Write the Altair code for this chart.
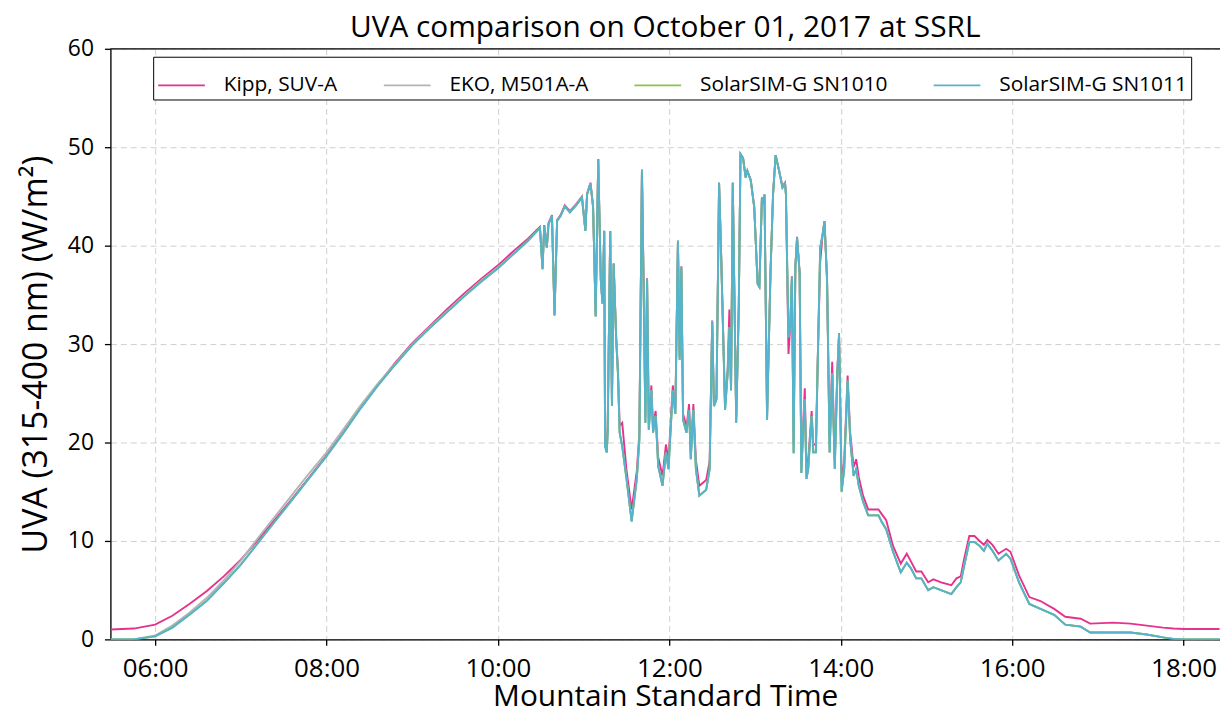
import altair as alt
import pandas as pd

# ---- data (time in decimal hours, MST; UVA in W/m^2) ----
T_RAMP = [5.48, 5.75, 6.00, 6.20, 6.40, 6.60, 6.80, 7.00, 7.20, 7.40, 7.60, 7.80, 8.00,
          8.20, 8.40, 8.60, 8.80, 9.00, 9.20, 9.40, 9.60, 9.80, 10.00, 10.20, 10.35]
RAMP_SIM = [0.0, 0.0, 0.3, 1.2, 2.5, 3.9, 5.7, 7.6, 9.8, 12.0, 14.2, 16.4, 18.6,
            21.0, 23.5, 25.8, 27.9, 29.9, 31.6, 33.2, 34.8, 36.3, 37.7, 39.3, 40.5]
RAMP_EKO = [0.0, 0.0, 0.4, 1.4, 2.7, 4.2, 6.0, 8.0, 10.3, 12.5, 14.7, 16.9, 19.0,
            21.4, 23.8, 26.0, 28.0, 30.0, 31.7, 33.3, 34.9, 36.4, 37.8, 39.3, 40.5]
RAMP_KIPP = [1.0, 1.1, 1.5, 2.4, 3.6, 4.9, 6.4, 8.1, 10.1, 12.2, 14.3, 16.5, 18.7,
             21.1, 23.6, 25.9, 28.1, 30.1, 31.8, 33.5, 35.1, 36.6, 38.0, 39.6, 40.7]

T_CLOUD = [10.49, 10.52, 10.54, 10.57, 10.59, 10.63, 10.66, 10.69, 10.73, 10.78,
           10.84, 10.92, 10.98, 11.02, 11.04, 11.08, 11.11, 11.14, 11.17, 11.20,
           11.22, 11.24, 11.25, 11.27, 11.28, 11.31, 11.33, 11.35, 11.38, 11.40,
           11.42, 11.45, 11.50, 11.56, 11.62, 11.65, 11.68, 11.70, 11.72, 11.74,
           11.76, 11.79, 11.81, 11.84, 11.87, 11.92, 11.96, 11.99, 12.04, 12.07,
           12.10, 12.12, 12.14, 12.16, 12.20, 12.23, 12.25, 12.28, 12.31, 12.35,
           12.43, 12.47, 12.50, 12.52, 12.55, 12.58, 12.60, 12.65, 12.68, 12.70,
           12.72, 12.74, 12.78, 12.81, 12.83, 12.86, 12.89, 12.91, 12.95, 12.99,
           13.03, 13.05, 13.08, 13.10, 13.11, 13.14, 13.18, 13.21, 13.24, 13.28,
           13.32, 13.35, 13.36, 13.39, 13.41, 13.43, 13.45, 13.47, 13.49, 13.52,
           13.54, 13.56, 13.58, 13.60, 13.62, 13.66, 13.68, 13.71, 13.73, 13.76,
           13.79, 13.81, 13.84, 13.87, 13.90, 13.93, 13.96, 13.98, 14.01, 14.04,
           14.08, 14.11, 14.15, 14.18, 14.21, 14.26, 14.32]
CLOUD_SIM = [41.8, 37.6, 42.0, 39.8, 42.2, 43.0, 32.9, 42.5, 43.0, 44.0,
             43.4, 44.2, 44.9, 41.5, 45.2, 46.3, 43.9, 32.8, 48.8, 36.5,
             34.1, 41.5, 19.6, 19.0, 21.0, 41.5, 23.7, 38.1, 30.4, 27.0,
             21.0, 19.6, 16.3, 12.0, 16.3, 20.3, 47.7, 35.5, 22.0, 36.6,
             21.3, 25.3, 21.0, 22.7, 17.6, 15.6, 19.0, 17.3, 25.3, 22.9,
             40.5, 28.4, 37.8, 22.3, 21.0, 23.3, 18.3, 23.3, 17.3, 14.6,
             15.2, 17.3, 32.3, 23.7, 24.4, 46.4, 40.5, 23.3, 27.0, 31.7,
             25.3, 46.4, 22.0, 33.8, 49.3, 48.9, 46.9, 47.6, 46.6, 43.9,
             36.1, 35.8, 44.9, 44.2, 45.2, 22.3, 37.2, 45.2, 49.2, 47.6,
             45.9, 46.3, 45.2, 30.7, 31.7, 36.8, 18.9, 37.8, 40.8, 37.2,
             16.9, 21.0, 24.4, 16.3, 17.3, 22.7, 19.0, 19.0, 27.7, 39.8,
             41.2, 42.5, 36.5, 19.0, 27.0, 17.3, 27.0, 31.0, 15.0, 17.3,
             26.3, 20.3, 16.6, 17.3, 15.6, 14.0, 12.6]
CLOUD_KIPP = [41.9, 37.7, 42.1, 39.9, 42.3, 43.1, 33.0, 42.6, 43.1, 44.1,
              43.5, 44.3, 45.0, 41.6, 45.3, 46.4, 44.0, 33.0, 48.8, 36.6,
              34.2, 41.5, 20.4, 19.9, 21.6, 41.5, 24.3, 38.2, 30.6, 27.5,
              21.7, 22.0, 17.2, 13.2, 17.1, 21.0, 47.7, 36.4, 22.6, 36.7,
              21.9, 25.8, 21.6, 23.2, 18.5, 16.6, 19.8, 18.2, 25.8, 23.4,
              40.5, 28.8, 37.9, 22.9, 21.6, 23.9, 19.2, 23.9, 18.2, 15.6,
              16.2, 18.1, 32.4, 24.2, 24.9, 46.4, 40.5, 23.8, 27.4, 33.5,
              25.8, 46.4, 22.5, 33.9, 49.3, 48.9, 47.0, 47.6, 46.7, 44.0,
              36.2, 35.9, 44.9, 44.3, 45.2, 22.8, 37.3, 45.3, 49.2, 47.7,
              46.0, 46.4, 45.3, 29.0, 31.8, 36.9, 19.8, 37.9, 40.9, 37.3,
              17.8, 21.6, 25.5, 17.2, 18.2, 23.2, 19.8, 19.8, 28.0, 38.3,
              41.3, 42.5, 36.6, 19.9, 28.2, 18.2, 27.4, 31.1, 16.0, 18.2,
              26.8, 21.0, 17.5, 18.3, 16.5, 14.6, 13.2]

T_TAIL = [14.38, 14.44, 14.48, 14.53, 14.61, 14.70, 14.77, 14.82, 14.88, 14.94,
          15.02, 15.08, 15.17, 15.29, 15.35, 15.40, 15.44, 15.50, 15.56, 15.62,
          15.67, 15.71, 15.77, 15.84, 15.93, 15.98, 16.08, 16.20, 16.33, 16.49,
          16.62, 16.80, 16.91, 17.18, 17.38, 17.57, 17.76, 17.88, 18.00, 18.42]
TAIL_SIM = [12.6, 12.6, 11.9, 11.2, 8.9, 6.8, 7.8, 7.2, 6.2, 6.2,
            5.0, 5.3, 5.0, 4.6, 5.3, 5.8, 7.5, 9.9, 9.9, 9.5,
            9.0, 9.7, 9.0, 8.0, 8.7, 8.2, 5.8, 3.6, 3.1, 2.5,
            1.5, 1.3, 0.7, 0.7, 0.7, 0.5, 0.2, 0.05, 0.0, 0.0]
TAIL_KIPP = [13.2, 13.2, 12.7, 12.1, 9.5, 7.7, 8.7, 7.9, 6.9, 6.9,
             5.8, 6.1, 5.8, 5.5, 6.2, 6.4, 8.2, 10.5, 10.5, 10.0,
             9.6, 10.1, 9.6, 8.7, 9.2, 8.9, 6.5, 4.3, 3.9, 3.1,
             2.3, 2.1, 1.6, 1.7, 1.6, 1.4, 1.2, 1.1, 1.05, 1.05]

SERIES = ["Kipp, SUV-A", "EKO, M501A-A", "SolarSIM-G SN1010", "SolarSIM-G SN1011"]
COLORS = ["#e5338d", "#b4b4b4", "#86c548", "#55b3cd"]
X_TICKS = [6, 8, 10, 12, 14, 16, 18]
Y_TICKS = [0, 10, 20, 30, 40, 50, 60]

T_ALL = T_RAMP + T_CLOUD + T_TAIL
VALUES = {
    "Kipp, SUV-A": RAMP_KIPP + CLOUD_KIPP + TAIL_KIPP,
    "EKO, M501A-A": RAMP_EKO + CLOUD_SIM + TAIL_SIM,
    "SolarSIM-G SN1010": RAMP_SIM + CLOUD_SIM + TAIL_SIM,
    "SolarSIM-G SN1011": RAMP_SIM + CLOUD_SIM + TAIL_SIM,
}
for k, v in VALUES.items():
    assert len(v) == len(T_ALL), (k, len(v), len(T_ALL))

rows = []
for s in SERIES:
    for t, v in zip(T_ALL, VALUES[s]):
        rows.append({"t": t, "uva": v, "series": s})
df = pd.DataFrame(rows)

FONT = "Open Sans"

x_enc = alt.X(
    "t:Q",
    scale=alt.Scale(domain=[5.478, 18.425], nice=False, zero=False),
    axis=alt.Axis(
        values=X_TICKS,
        labelExpr="(datum.value < 10 ? '0' : '') + datum.value + ':00'",
        title="Mountain Standard Time",
        titleFontSize=30, titleFont=FONT, titleFontWeight="normal", titleColor="black",
        titlePadding=1,
        labelFontSize=26, labelFont=FONT, labelColor="black", labelPadding=10,
        tickSize=6, tickColor="black", tickWidth=1.3,
        domainColor="black", domainWidth=1.3,
        grid=True, gridColor="#d0d0d0", gridDash=[6, 4], gridWidth=1,
    ),
)
y_enc = alt.Y(
    "uva:Q",
    scale=alt.Scale(domain=[0, 60], nice=False),
    axis=alt.Axis(
        values=Y_TICKS,
        title="UVA (315-400 nm) (W/m²)",
        titleFontSize=34, titleFont=FONT, titleFontWeight="normal", titleColor="black",
        titlePadding=14, titleY=307,
        labelFontSize=23, labelFont=FONT, labelColor="black", labelPadding=11,
        tickSize=6, tickColor="black", tickWidth=1.3,
        domainColor="black", domainWidth=1.3,
        grid=True, gridColor="#d0d0d0", gridDash=[6, 4], gridWidth=1,
    ),
)
color_enc = alt.Color(
    "series:N",
    scale=alt.Scale(domain=SERIES, range=COLORS),
    legend=alt.Legend(
        title=None, orient="none", legendX=43, legendY=8,
        direction="horizontal", columns=4,
        symbolType="stroke", symbolSize=2209, symbolStrokeWidth=1.6,
        labelFont=FONT, labelFontSize=21, labelColor="black", labelOffset=18,
        labelLimit=500,
        columnPadding=42, padding=4,
        strokeColor="black", fillColor="white", cornerRadius=0,
    ),
)

layers = []
for s in SERIES:
    layers.append(
        alt.Chart(df[df.series == s])
        .mark_line(strokeWidth=1.9, clip=True)
        .encode(x=x_enc, y=y_enc, color=color_enc)
    )

top_spine = alt.Chart(df.head(1)).mark_rule(color="black", strokeWidth=1.3).encode(y=alt.value(0))

chart = (
    alt.layer(*layers, top_spine)
    .properties(
        width=1116,
        height=594,
        title=alt.TitleParams(
            "UVA comparison on October 01, 2017 at SSRL",
            font=FONT, fontSize=30, fontWeight="normal", color="black",
            anchor="middle", offset=0, dy=5,
        ),
        autosize=alt.AutoSizeParams(type="none"),
        padding={"left": 103, "top": 39, "right": 0, "bottom": 70},
    )
    .configure_view(stroke=None)
    .configure(background="white")
)

chart.save("out.html", embed_options={"renderer": "svg", "actions": False})
